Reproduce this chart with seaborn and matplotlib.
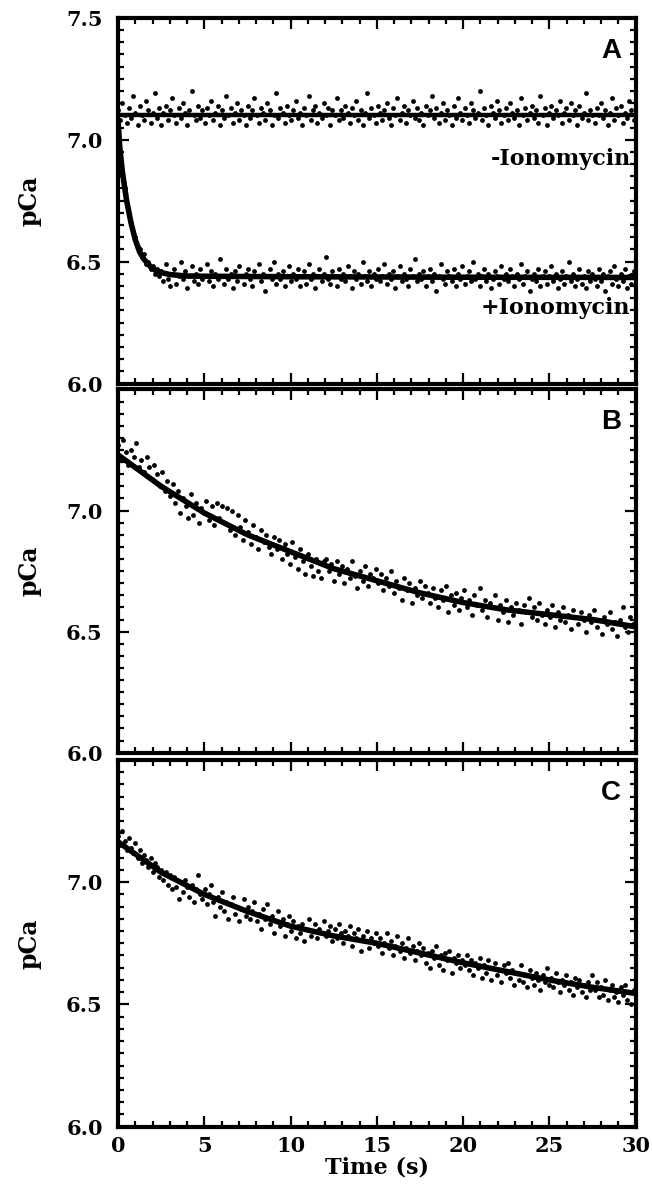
import matplotlib
matplotlib.use("Agg")
import matplotlib.pyplot as plt
from matplotlib.ticker import MultipleLocator
import numpy as np
import pandas as pd
import seaborn as sns

##############################################
#                 DATA
##############################################
# panel A, -Ionomycin dots (pCa), evenly sampled over 0-30 s
a_minus = [
    7.12, 7.08, 7.15, 7.10, 7.07, 7.13, 7.09, 7.18, 7.11, 7.06, 7.14, 7.10, 7.08, 7.16, 7.12, 7.07, 7.11, 7.19, 7.09, 7.13,
    7.06, 7.11, 7.14, 7.08, 7.12, 7.17, 7.10, 7.07, 7.13, 7.09, 7.15, 7.11, 7.06, 7.12, 7.20, 7.10, 7.08, 7.14, 7.09, 7.12,
    7.07, 7.13, 7.10, 7.16, 7.08, 7.11, 7.14, 7.06, 7.12, 7.09, 7.18, 7.10, 7.13, 7.07, 7.11, 7.15, 7.08, 7.12, 7.10, 7.06,
    7.14, 7.09, 7.12, 7.17, 7.10, 7.07, 7.13, 7.11, 7.08, 7.15, 7.12, 7.06, 7.10, 7.19, 7.09, 7.13, 7.11, 7.07, 7.14, 7.10,
    7.08, 7.12, 7.16, 7.09, 7.11, 7.06, 7.13, 7.10, 7.18, 7.08, 7.12, 7.14, 7.07, 7.11, 7.09, 7.15, 7.10, 7.13, 7.06, 7.12,
    7.10, 7.17, 7.08, 7.12, 7.09, 7.14, 7.11, 7.07, 7.13, 7.10, 7.16, 7.08, 7.12, 7.06, 7.11, 7.19, 7.09, 7.13, 7.10, 7.07,
    7.14, 7.11, 7.08, 7.12, 7.15, 7.09, 7.06, 7.13, 7.10, 7.17, 7.08, 7.11, 7.14, 7.07, 7.12, 7.10, 7.16, 7.09, 7.13, 7.08,
    7.11, 7.06, 7.14, 7.10, 7.12, 7.18, 7.09, 7.13, 7.07, 7.11, 7.15, 7.08, 7.12, 7.10, 7.06, 7.14, 7.09, 7.17, 7.11, 7.08,
    7.13, 7.10, 7.07, 7.15, 7.12, 7.09, 7.11, 7.20, 7.08, 7.13, 7.10, 7.06, 7.14, 7.11, 7.09, 7.16, 7.12, 7.07, 7.10, 7.13,
    7.08, 7.15, 7.11, 7.09, 7.12, 7.06, 7.17, 7.10, 7.13, 7.08, 7.11, 7.14, 7.09, 7.12, 7.07, 7.18, 7.10, 7.13, 7.06, 7.11,
    7.14, 7.09, 7.12, 7.10, 7.16, 7.07, 7.11, 7.13, 7.08, 7.15, 7.10, 7.12, 7.06, 7.14, 7.09, 7.11, 7.19, 7.08, 7.12, 7.10,
    7.07, 7.13, 7.10, 7.15, 7.09, 7.12, 7.06, 7.11, 7.17, 7.08, 7.13, 7.10, 7.14, 7.07, 7.11, 7.09, 7.16, 7.12, 7.08, 7.10,
]
# panel A, +Ionomycin dots
a_plus = [
    7.05, 6.95, 6.86, 6.80, 6.74, 6.70, 6.66, 6.62, 6.60, 6.56, 6.55, 6.52, 6.53, 6.49, 6.50, 6.47, 6.48, 6.45, 6.47, 6.44,
    6.46, 6.42, 6.49, 6.43, 6.40, 6.45, 6.47, 6.41, 6.44, 6.50, 6.43, 6.46, 6.39, 6.44, 6.48, 6.42, 6.45, 6.41, 6.47, 6.43,
    6.44, 6.49, 6.42, 6.46, 6.40, 6.45, 6.43, 6.51, 6.44, 6.41, 6.47, 6.43, 6.45, 6.39, 6.46, 6.42, 6.48, 6.44, 6.41, 6.45,
    6.47, 6.43, 6.40, 6.46, 6.44, 6.49, 6.42, 6.45, 6.38, 6.44, 6.47, 6.43, 6.50, 6.41, 6.45, 6.43, 6.46, 6.40, 6.44, 6.48,
    6.42, 6.45, 6.43, 6.47, 6.40, 6.44, 6.46, 6.41, 6.49, 6.43, 6.45, 6.39, 6.44, 6.47, 6.42, 6.45, 6.52, 6.43, 6.41, 6.46,
    6.44, 6.40, 6.47, 6.43, 6.45, 6.42, 6.48, 6.44, 6.39, 6.46, 6.43, 6.45, 6.41, 6.50, 6.44, 6.42, 6.46, 6.40, 6.45, 6.43,
    6.47, 6.42, 6.44, 6.49, 6.41, 6.45, 6.43, 6.46, 6.39, 6.44, 6.48, 6.42, 6.45, 6.43, 6.40, 6.47, 6.44, 6.51, 6.42, 6.45,
    6.43, 6.46, 6.40, 6.44, 6.47, 6.42, 6.45, 6.38, 6.44, 6.49, 6.43, 6.41, 6.46, 6.44, 6.42, 6.47, 6.40, 6.45, 6.43, 6.48,
    6.41, 6.44, 6.46, 6.42, 6.50, 6.43, 6.45, 6.40, 6.44, 6.47, 6.42, 6.45, 6.39, 6.43, 6.46, 6.44, 6.41, 6.48, 6.43, 6.45,
    6.42, 6.47, 6.44, 6.40, 6.45, 6.43, 6.49, 6.41, 6.44, 6.46, 6.38, 6.43, 6.45, 6.42, 6.47, 6.40, 6.44, 6.46, 6.41, 6.44,
    6.48, 6.42, 6.45, 6.39, 6.43, 6.46, 6.41, 6.44, 6.50, 6.42, 6.45, 6.40, 6.43, 6.47, 6.41, 6.44, 6.39, 6.46, 6.42, 6.45,
    6.43, 6.40, 6.47, 6.42, 6.45, 6.38, 6.44, 6.46, 6.41, 6.48, 6.43, 6.40, 6.45, 6.42, 6.47, 6.39, 6.44, 6.41, 6.46, 6.43,
]
# panel B dots
b_dots = [
    7.27, 7.21, 7.29, 7.24, 7.19, 7.25, 7.22, 7.28, 7.18, 7.21, 7.16, 7.22, 7.18, 7.13, 7.19, 7.15, 7.10, 7.16, 7.08, 7.12,
    7.06, 7.11, 7.03, 7.08, 6.99, 7.05, 7.02, 6.97, 7.07, 6.98, 7.03, 6.95, 7.01, 6.99, 7.04, 6.96, 7.02, 6.94, 7.03, 6.97,
    7.02, 6.95, 7.01, 6.92, 7.00, 6.90, 6.98, 6.93, 6.88, 6.96, 6.91, 6.86, 6.94, 6.89, 6.84, 6.92, 6.87, 6.90, 6.85, 6.82,
    6.89, 6.84, 6.88, 6.80, 6.86, 6.82, 6.78, 6.87, 6.81, 6.76, 6.84, 6.79, 6.74, 6.82, 6.77, 6.73, 6.80, 6.75, 6.72, 6.79,
    6.80, 6.75, 6.78, 6.71, 6.79, 6.74, 6.77, 6.70, 6.76, 6.72, 6.79, 6.73, 6.68, 6.75, 6.71, 6.77, 6.69, 6.74, 6.72, 6.76,
    6.70, 6.74, 6.67, 6.72, 6.69, 6.75, 6.66, 6.71, 6.68, 6.63, 6.72, 6.67, 6.70, 6.62, 6.68, 6.65, 6.71, 6.64, 6.69, 6.66,
    6.62, 6.68, 6.64, 6.60, 6.67, 6.63, 6.69, 6.58, 6.65, 6.61, 6.66, 6.59, 6.64, 6.67, 6.60, 6.63, 6.57, 6.65, 6.61, 6.68,
    6.59, 6.63, 6.56, 6.62, 6.60, 6.65, 6.55, 6.61, 6.58, 6.63, 6.54, 6.60, 6.57, 6.62, 6.59, 6.53, 6.61, 6.58, 6.64, 6.56,
    6.60, 6.55, 6.62, 6.57, 6.53, 6.59, 6.56, 6.61, 6.52, 6.58, 6.55, 6.60, 6.54, 6.57, 6.51, 6.59, 6.56, 6.53, 6.58, 6.55,
    6.50, 6.57, 6.54, 6.59, 6.52, 6.55, 6.49, 6.56, 6.53, 6.58, 6.51, 6.54, 6.48, 6.55, 6.60, 6.52, 6.50, 6.56, 6.53, 6.51,
]
# panel C dots
c_dots = [
    7.19, 7.15, 7.21, 7.17, 7.13, 7.18, 7.14, 7.12, 7.16, 7.10, 7.13, 7.08, 7.11, 7.09, 7.06, 7.10, 7.04, 7.08, 7.06, 7.02,
    7.05, 7.01, 7.04, 6.99, 7.03, 6.97, 7.02, 6.98, 6.93, 7.00, 6.96, 7.01, 6.98, 6.94, 6.99, 6.92, 6.97, 7.03, 6.95, 6.93,
    6.97, 6.91, 6.95, 6.99, 6.92, 6.86, 6.94, 6.90, 6.96, 6.88, 6.92, 6.85, 6.91, 6.94, 6.87, 6.90, 6.84, 6.89, 6.93, 6.86,
    6.90, 6.85, 6.88, 6.92, 6.84, 6.87, 6.81, 6.89, 6.85, 6.91, 6.83, 6.86, 6.79, 6.84, 6.88, 6.82, 6.85, 6.78, 6.83, 6.86,
    6.80, 6.84, 6.77, 6.82, 6.79, 6.83, 6.76, 6.81, 6.85, 6.78, 6.80, 6.83, 6.77, 6.81, 6.79, 6.84, 6.78, 6.80, 6.82, 6.76,
    6.81, 6.77, 6.83, 6.79, 6.75, 6.80, 6.78, 6.82, 6.74, 6.79, 6.77, 6.81, 6.72, 6.78, 6.76, 6.80, 6.73, 6.77, 6.75, 6.79,
    6.74, 6.77, 6.71, 6.75, 6.79, 6.73, 6.76, 6.70, 6.74, 6.78, 6.72, 6.75, 6.69, 6.73, 6.77, 6.71, 6.74, 6.68, 6.72, 6.75,
    6.70, 6.73, 6.67, 6.71, 6.65, 6.72, 6.69, 6.74, 6.66, 6.70, 6.64, 6.71, 6.68, 6.72, 6.63, 6.69, 6.67, 6.70, 6.65, 6.68,
    6.66, 6.70, 6.64, 6.68, 6.62, 6.67, 6.65, 6.69, 6.61, 6.66, 6.63, 6.68, 6.60, 6.65, 6.67, 6.62, 6.64, 6.59, 6.66, 6.63,
    6.67, 6.61, 6.64, 6.58, 6.63, 6.60, 6.66, 6.59, 6.62, 6.57, 6.64, 6.61, 6.58, 6.63, 6.60, 6.56, 6.62, 6.59, 6.65, 6.58,
    6.61, 6.57, 6.63, 6.59, 6.55, 6.60, 6.58, 6.62, 6.56, 6.59, 6.54, 6.61, 6.57, 6.60, 6.55, 6.58, 6.53, 6.59, 6.56, 6.62,
    6.56, 6.59, 6.53, 6.57, 6.54, 6.60, 6.52, 6.56, 6.58, 6.53, 6.55, 6.51, 6.57, 6.54, 6.58, 6.52, 6.55, 6.50, 6.56, 6.54,
]

# fitted curves (time s, pCa)
fit_a_minus_t = [0, 30]
fit_a_minus_y = [7.10, 7.10]
fit_a_plus_t = [0, 0.1, 0.25, 0.5, 0.75, 1.0, 1.25, 1.5, 2.0, 2.5, 3.0, 4.0, 5.0, 10, 20, 30]
fit_a_plus_y = [7.08, 6.97, 6.87, 6.75, 6.66, 6.59, 6.54, 6.51, 6.47, 6.455, 6.447, 6.441, 6.44, 6.438, 6.436, 6.435]
fit_b_t = [0, 2.5, 5, 7.5, 10, 12.5, 15, 17.5, 20, 22.5, 25, 27.5, 30]
fit_b_y = [7.23, 7.10, 6.99, 6.90, 6.83, 6.76, 6.71, 6.66, 6.62, 6.59, 6.57, 6.55, 6.52]
fit_c_t = [0, 2.5, 5, 7.5, 10, 12.5, 15, 17.5, 20, 22.5, 25, 27.5, 30]
fit_c_y = [7.165, 7.04, 6.95, 6.88, 6.82, 6.78, 6.75, 6.71, 6.67, 6.635, 6.60, 6.57, 6.545]

y_ticks = [6.0, 6.5, 7.0, 7.5]
x_ticks = [0, 5, 10, 15, 20, 25, 30]

##############################################
#                 PLOTTING
##############################################
sns.set_style("ticks")
plt.rcParams['font.family'] = ['DejaVu Serif']
plt.rcParams['font.weight'] = 'bold'
plt.rcParams['text.color'] = 'black'
plt.rcParams['axes.labelcolor'] = 'black'
plt.rcParams['xtick.color'] = 'black'
plt.rcParams['ytick.color'] = 'black'

def sampleTimes(vals):
    # instrument sampling: evenly spaced over the 30 s record
    return np.linspace(0, 30, len(vals))

def styleAxis(ax, showTop):
    ax.set_xlim(0, 30)
    ax.set_ylim(6.0, 7.5)
    ax.set_xticks(x_ticks)
    ax.set_yticks(y_ticks)
    ax.xaxis.set_minor_locator(MultipleLocator(1))
    ax.yaxis.set_minor_locator(MultipleLocator(0.05))
    ax.tick_params(which='both', direction='in', top=True, right=True,
                   width=1.6, color='black', labelcolor='black')
    ax.tick_params(which='major', length=8, labelsize=15)
    ax.tick_params(axis='y', which='major', pad=11)
    ax.tick_params(axis='x', which='major', pad=7)
    ax.tick_params(which='minor', length=4.5)
    labels = ["%.1f" % v for v in y_ticks]
    if not showTop:
        labels[-1] = ""
    ax.set_yticklabels(labels)
    for sp in ax.spines.values():
        sp.set_visible(True)
        sp.set_linewidth(3)
        sp.set_color('black')
    ax.set_ylabel("pCa", fontsize=17, fontweight='bold', labelpad=18, color='black')
    ax.set_xlabel("")

fig = plt.figure(figsize=(6.52, 11.91), dpi=100)
left, width = 0.181, 0.794
axA = fig.add_axes([left, 0.678, width, 0.307])
axB = fig.add_axes([left, 0.368, width, 0.305])
axC = fig.add_axes([left, 0.054, width, 0.308])

dot_kw = dict(color='black', s=12, linewidth=0, legend=False)
line_kw = dict(color='black', linewidth=4, legend=False)

# panel A
sns.scatterplot(x=sampleTimes(a_minus), y=a_minus, ax=axA, **dot_kw)
sns.scatterplot(x=sampleTimes(a_plus), y=a_plus, ax=axA, **dot_kw)
sns.lineplot(x=fit_a_minus_t, y=fit_a_minus_y, ax=axA, color='black', linewidth=3.2)
sns.lineplot(x=fit_a_plus_t, y=fit_a_plus_y, ax=axA, **line_kw)
styleAxis(axA, True)
axA.set_xticklabels([])
axA.text(29.7, 6.92, "-Ionomycin", ha='right', va='center', fontsize=16, fontweight='bold', color='black')
axA.text(29.7, 6.31, "+Ionomycin", ha='right', va='center', fontsize=16, fontweight='bold', color='black')

# panel B
sns.scatterplot(x=sampleTimes(b_dots), y=b_dots, ax=axB, **dot_kw)
sns.lineplot(x=fit_b_t, y=fit_b_y, ax=axB, **line_kw)
styleAxis(axB, False)
axB.set_xticklabels([])

# panel C
sns.scatterplot(x=sampleTimes(c_dots), y=c_dots, ax=axC, **dot_kw)
sns.lineplot(x=fit_c_t, y=fit_c_y, ax=axC, **line_kw)
styleAxis(axC, False)
axC.set_xticklabels([str(v) for v in x_ticks])
axC.set_xlabel("Time (s)", fontsize=16, fontweight='bold', labelpad=0, color='black')

for ax, lab in zip([axA, axB, axC], ["A", "B", "C"]):
    ax.text(0.952, 0.91, lab, transform=ax.transAxes, ha='center', va='center',
            fontsize=20, fontweight='bold', family='Liberation Sans', color='black')

plt.savefig("out.png", dpi=100)
plt.close()
